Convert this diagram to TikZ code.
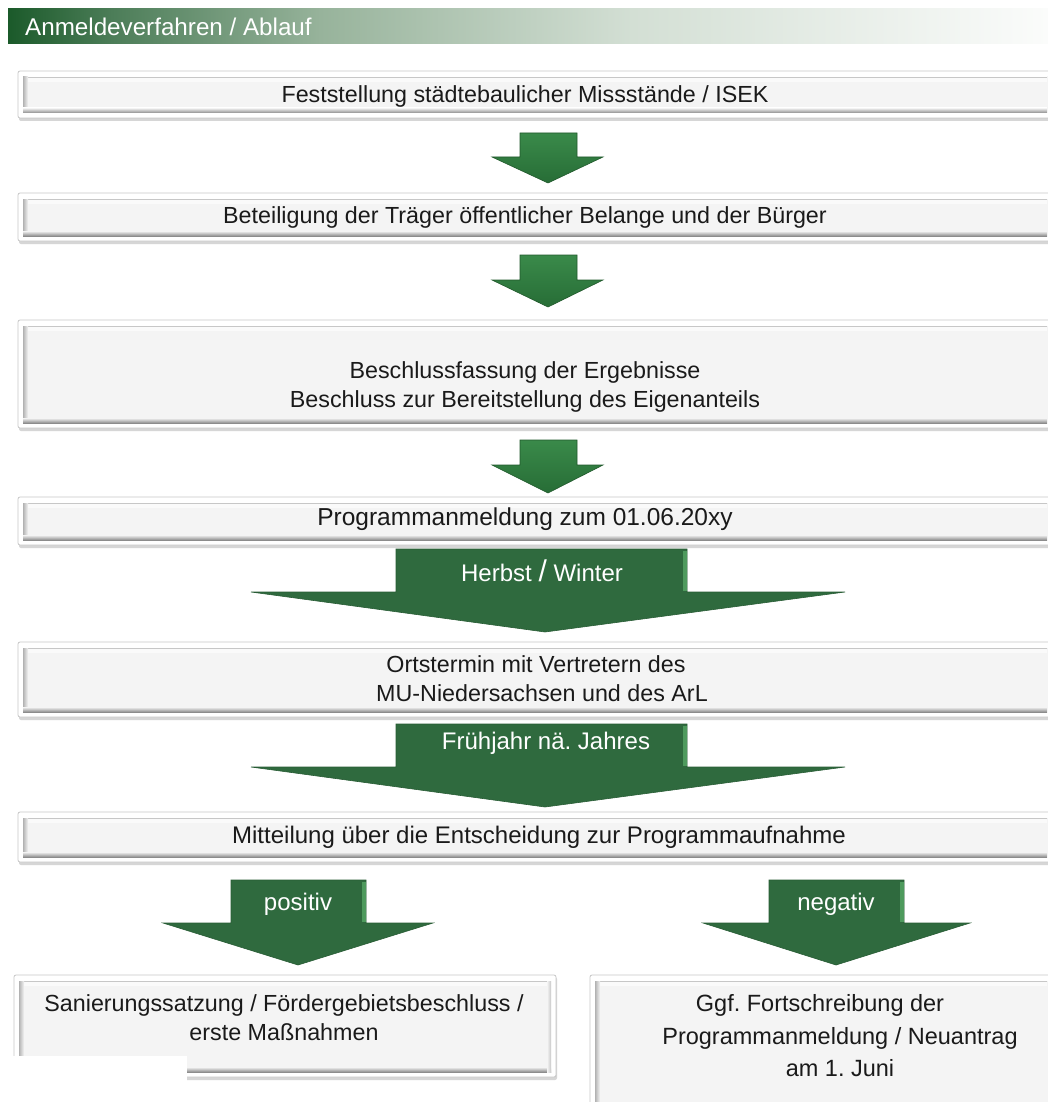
\documentclass[tikz,border=0pt]{standalone}
\usepackage{fontspec}
\setmainfont{Liberation Sans}
\frenchspacing
\definecolor{hdrA}{HTML}{1B5A2A}
\definecolor{hdrB}{HTML}{4C7D58}
\definecolor{hdrC}{HTML}{97B39B}
\definecolor{hdrD}{HTML}{D3DFD4}
\definecolor{hdrE}{HTML}{FBFCFB}
\definecolor{pface}{HTML}{F4F4F4}
\definecolor{ptop}{HTML}{FAFAFA}
\definecolor{txt}{HTML}{1A1A1A}
\definecolor{gA}{HTML}{3A8A4A}
\definecolor{gB}{HTML}{276D36}
\definecolor{gC}{HTML}{21592C}
\definecolor{gD}{HTML}{2F6A3E}
\definecolor{gE}{HTML}{285C35}
\definecolor{gH}{HTML}{4E9A5D}
\pgfdeclarehorizontalshading{hdrshade}{100bp}{color(0bp)=(hdrA); color(25bp)=(hdrA); color(30bp)=(hdrB); color(40bp)=(hdrC); color(55bp)=(hdrD); color(75bp)=(hdrE); color(100bp)=(hdrE)}
% panel: x1 y1 x2 y2
\newcommand\panel[4]{%
  \fill[black!16, rounded corners=2pt] (#1+1,#2+2) rectangle (#3+1,#4+3);
  \filldraw[draw=black!22, fill=white, rounded corners=2pt, line width=0.8pt] (#1,#2) rectangle (#3,#4);
  \fill[pface] (#1+5,#2+6) rectangle (#3-5,#4-5);
  \fill[ptop] (#1+5,#2+6) rectangle (#3-5,#2+11);
  \draw[black!22, line width=0.8pt] (#1+5,#2+6) -- (#3-5,#2+6);
  \shade[left color=black!30, right color=pface] (#1+5,#2+6) rectangle (#1+10,#4-5);
  \shade[top color=pface, bottom color=black!45] (#1+5,#4-10) rectangle (#3-5,#4-5);
  \shade[left color=pface, right color=black!22] (#3-9,#2+6) rectangle (#3-5,#4-5);
}
\begin{document}
\begin{tikzpicture}[x=1pt,y=-1pt,
  btext/.style={font=\fontsize{23.3}{29}\selectfont, text=txt, align=center, inner sep=0pt},
  ltext/.style={font=\fontsize{24}{28}\selectfont, text=white, inner sep=0pt},
  smallarr/.style={top color=gA, bottom color=gB, draw=gC, line width=0.6pt},
  bigarr/.style={fill=gD, draw=gE, line width=0.6pt}]
\useasboundingbox (0,0) rectangle (1048,1102);
\clip (0,0) rectangle (1048,1102);
\fill[white] (0,0) rectangle (1048,1102);

% header
\shade[shading=hdrshade] (8,9) rectangle (1048,44);
\node[anchor=west, font=\fontsize{24.2}{28}\selectfont, text=white, inner sep=0pt] (hdr) at (25,27) {Anmeldeverfahren / Ablauf};

% panels
\panel{18}{71}{1056}{118}
\node[btext] (t1) at (525,96) {Feststellung städtebaulicher Missstände / ISEK};
\shade[smallarr] (520,133) -- (577,133) -- (577,157) -- (603,157) -- (548,183) -- (492,157) -- (520,157) -- cycle;

\panel{18}{193}{1056}{241}
\node[btext] (t2) at (525,217) {Beteiligung der Träger öffentlicher Belange und der Bürger};
\shade[smallarr] (520,255) -- (577,255) -- (577,280) -- (603,280) -- (548,307) -- (492,280) -- (520,280) -- cycle;

\panel{18}{320}{1056}{428}
\node[btext] (t3) at (525,387) {Beschlussfassung der Ergebnisse\\Beschluss zur Bereitstellung des Eigenanteils};
\shade[smallarr] (520,440) -- (577,440) -- (577,465) -- (603,465) -- (548,493) -- (492,465) -- (520,465) -- cycle;

\panel{18}{497}{1056}{545}
\node[btext, font=\fontsize{24.5}{29}\selectfont] (t4) at (525,519) {Programmanmeldung zum 01.06.20xy};

% Herbst / Winter
\filldraw[bigarr] (396,549) -- (687,549) -- (687,592) -- (845,592) -- (545,632) -- (251,592) -- (396,592) -- cycle;
\fill[gH] (683,551) rectangle (687,591);
\node[ltext] (l1) at (542,571) {Herbst {\fontsize{30}{30}\selectfont /} Winter};

\panel{18}{642}{1056}{717}
\node[btext] (t5) at (542,679) {Ortstermin mit Vertretern des\hspace*{12pt}\\MU-Niedersachsen und des ArL};

% Fruehjahr
\filldraw[bigarr] (396,724) -- (687,724) -- (687,767) -- (845,767) -- (545,807) -- (251,767) -- (396,767) -- cycle;
\fill[gH] (683,726) rectangle (687,766);
\node[ltext] (l2) at (546,743) {Frühjahr nä. Jahres};

\panel{18}{812}{1056}{862}
\node[btext, font=\fontsize{24}{29}\selectfont] (t6) at (539,837) {Mitteilung über die Entscheidung zur Programmaufnahme};

% positiv
\filldraw[bigarr] (231,880) -- (366,880) -- (366,923) -- (433,923) -- (298,965) -- (163,923) -- (231,923) -- cycle;
\fill[gH] (362,882) rectangle (366,922);
\node[ltext] (l3) at (298,904) {positiv};

% negativ
\filldraw[bigarr] (769,880) -- (904,880) -- (904,923) -- (970,923) -- (836,965) -- (703,923) -- (769,923) -- cycle;
\fill[gH] (900,882) rectangle (904,922);
\node[ltext] (l4) at (836,904) {negativ};

% bottom boxes
\panel{14}{975}{556}{1077}
\node[btext] (t7) at (284,1018) {Sanierungssatzung / Fördergebietsbeschluss /\\erste Maßnahmen};
\fill[white] (0,1056) rectangle (187,1102);

\panel{590}{975}{1056}{1130}
\node[btext, font=\fontsize{23.5}{32.5}\selectfont] (t8) at (840,1036) {Ggf. Fortschreibung der\hspace*{40pt}\\Programmanmeldung / Neuantrag\\am 1. Juni};
\end{tikzpicture}
\end{document}
